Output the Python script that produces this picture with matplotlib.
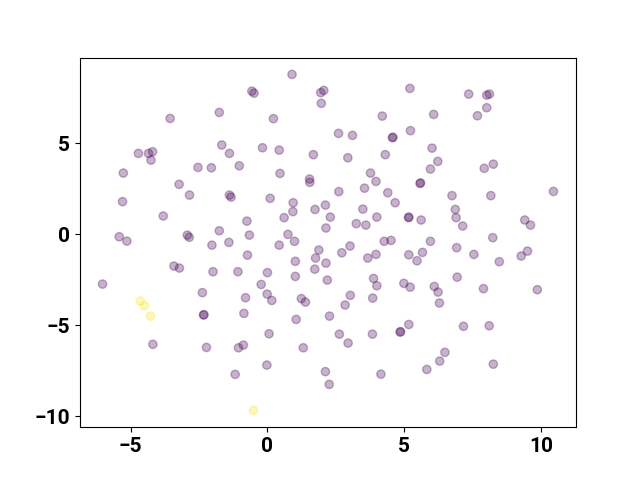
import numpy as np
import matplotlib
matplotlib.use("Agg")
import matplotlib.pyplot as plt
from matplotlib.ticker import MultipleLocator

plt.rcParams['font.family'] = ['Roboto', 'DejaVu Sans']

# cluster 0 (purple)
x0 = [-0.57, -0.49, -3.56, -1.76, -1.67, -1.39, -4.72, -4.35, -4.20, -4.26,
      -1.03, -2.54, -2.05, -5.27, -3.23, -2.85, -1.39, -1.33, -5.30, -3.81,
      -0.75, -1.76, -2.93, -2.86, -5.42, -5.14, -2.03, -1.41, -0.66,
      0.90, 1.95, 2.06, 1.97, 5.21, 0.22, 4.20, 5.23, 2.60, 3.11,
      4.57, 4.59, -0.18, 0.43, 1.68, 2.94, 4.31, 0.46, 3.77, 1.54,
      1.55, 3.97, 3.55, 2.61, 4.40, 0.10, 4.67, 0.94, 0.93, 2.12,
      1.74, 3.49, 2.30, 0.61, 4.00, 5.16, 5.17, 3.25, 3.60, 2.14,
      0.75, 0.99, 0.43, 3.02, 4.27, 4.52,
      7.36, 8.02, 8.12, 8.02, 7.68, 6.08, 6.02, 6.23, 5.96, 7.93,
      8.26, 5.58, 5.60, 6.75, 8.17, 10.46, 5.62, 6.87, 6.90, 7.14,
      9.41, 9.62, 5.96, 8.24, 6.92, 9.51, 5.67,
      -0.73, -3.42, -3.22, -1.99, -1.08, -6.03, -2.38, -0.80, -2.34, -2.32,
      -0.86, -4.19, -2.23, -1.06, -0.88, -1.18,
      1.88, 1.76, 2.14, 2.72, 1.02, 3.67, 3.97, 5.17, 5.47, 0.00,
      1.02, 1.73, -0.23, 2.19, 3.88, 4.00, 4.99, 5.22, -0.01, 0.16,
      1.24, 1.39, 3.03, 2.84, 3.85, 1.05, 2.27, 0.06, 1.31, 2.63,
      2.95, 3.84, 4.85, 4.87, 5.17, -0.02, 2.12, 2.26, 4.15,
      7.55, 8.48, 9.28, 6.94, 6.10, 6.24, 6.29, 7.90, 9.87, 7.17,
      8.11, 6.49, 6.30, 5.83, 8.26]
y0 = [7.87, 7.76, 6.37, 6.70, 4.91, 4.45, 4.45, 4.45, 4.54, 4.08,
      3.77, 3.68, 3.66, 3.37, 2.75, 2.16, 2.16, 2.05, 1.80, 1.01,
      0.73, 0.20, -0.04, -0.16, -0.13, -0.37, -0.59, -0.44, -0.04,
      8.79, 7.79, 7.91, 7.20, 8.02, 6.36, 6.50, 5.70, 5.55, 5.44,
      5.31, 5.34, 4.76, 4.63, 4.38, 4.21, 4.38, 3.35, 3.37, 3.04,
      2.86, 2.91, 2.54, 2.35, 2.29, 1.98, 1.74, 1.74, 1.25, 1.61,
      1.37, 1.39, 0.95, 0.92, 0.95, 0.92, 0.95, 0.59, 0.51, 0.35,
      0.00, -0.38, -0.59, -0.64, -0.38, -0.33,
      7.71, 7.65, 7.71, 6.96, 6.52, 6.59, 4.74, 4.01, 3.59, 3.63,
      3.86, 2.80, 2.83, 2.13, 2.13, 2.36, 0.79, 1.37, 0.92, 0.46,
      0.79, 0.51, -0.38, -0.18, -0.73, -0.92, -0.99,
      -1.14, -1.74, -1.85, -2.05, -2.05, -2.73, -3.20, -3.48, -4.43, -4.41,
      -4.34, -6.04, -6.21, -6.23, -6.08, -7.69,
      -0.86, -1.30, -1.58, -1.01, -1.48, -1.30, -1.10, -1.12, -1.45, -2.10,
      -2.31, -1.91, -2.75, -2.51, -2.42, -2.82, -2.69, -2.90, -3.28, -3.63,
      -3.53, -3.72, -3.35, -3.88, -3.50, -4.67, -4.49, -5.46, -6.23, -5.48,
      -5.97, -5.48, -5.37, -5.34, -4.95, -7.18, -7.54, -8.24, -7.68,
      -1.10, -1.50, -1.19, -2.35, -2.86, -3.17, -3.77, -2.98, -3.04, -5.05,
      -5.02, -6.48, -6.96, -7.42, -7.13]

# cluster 1 (yellow)
x1 = [-4.65, -4.50, -4.28, -0.51]
y1 = [-3.66, -3.92, -4.49, -9.67]

x = np.array(x0 + x1)
y = np.array(y0 + y1)
labels = np.array([0] * len(x0) + [1] * len(x1))

fig, ax = plt.subplots(figsize=(6.4, 4.8), dpi=100)
ax.scatter(x, y, c=labels, cmap='viridis', alpha=0.3)

ax.xaxis.set_major_locator(MultipleLocator(5))
ax.yaxis.set_major_locator(MultipleLocator(5))
for lab in ax.get_xticklabels() + ax.get_yticklabels():
    lab.set_fontweight('bold')
    lab.set_fontsize(15)

fig.savefig('out.png')
